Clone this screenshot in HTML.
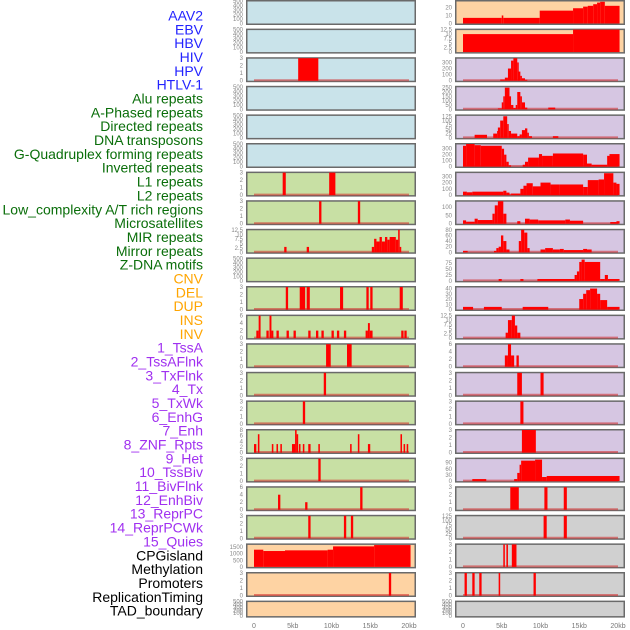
<!DOCTYPE html>
<html><head><meta charset="utf-8"><style>
html,body{margin:0;padding:0;background:#fff;width:630px;height:630px;overflow:hidden}
svg{display:block}
</style></head><body>
<svg id="chart" width="630" height="630" xmlns="http://www.w3.org/2000/svg"></svg>
<script>
const labels = ["AAV2","EBV","HBV","HIV","HPV","HTLV-1","Alu repeats","A-Phased repeats","Directed repeats","DNA transposons","G-Quadruplex forming repeats","Inverted repeats","L1 repeats","L2 repeats","Low_complexity A/T rich regions","Microsatellites","MIR repeats","Mirror repeats","Z-DNA motifs","CNV","DEL","DUP","INS","INV","1_TssA","2_TssAFlnk","3_TxFlnk","4_Tx","5_TxWk","6_EnhG","7_Enh","8_ZNF_Rpts","9_Het","10_TssBiv","11_BivFlnk","12_EnhBiv","13_ReprPC","14_ReprPCWk","15_Quies","CPGisland","Methylation","Promoters","ReplicationTiming","TAD_boundary"];
const labelGroups = [6,13,5,15,5];
const xTicks = [0,5,10,15,20];
const xTickLabels = ["0","5kb","10kb","15kb","20kb"];
const bgLeft = ["blue","blue","blue","blue","blue","blue","green","green","green","green","green","green","green","green","green","green","green","green","green","orange","orange","orange"];
const bgRight = ["orange","orange","purple","purple","purple","purple","purple","purple","purple","purple","purple","purple","purple","purple","purple","purple","purple","gray","gray","gray","gray","gray"];
const ymaxLeft = [500,500,3,500,500,500,3,3,12.5,500,3,6,3,3,3,8,3,6,3,1700,3,500];
const ymaxRight = [28,12.5,370,260,130,380,360,135,80,95,43,12.5,6,3,3,3,110,3,125,3,3,500];
const ticksLeft = [[0,100,200,300,400,500],[0,100,200,300,400,500],[0,1,2,3],[0,100,200,300,400,500],[0,100,200,300,400,500],[0,100,200,300,400,500],[0,1,2,3],[0,1,2,3],[0,2.5,5,7.5,10,12.5],[0,100,200,300,400,500],[0,1,2,3],[0,2,4,6],[0,1,2,3],[0,1,2,3],[0,1,2,3],[0,2,4,6,8],[0,1,2,3],[0,2,4,6],[0,1,2,3],[0,500,1000,1500],[0,1,2,3],[0,100,200,300,400,500]];
const ticksRight = [[0,10,20],[0,2.5,5,7.5,10,12.5],[0,100,200,300],[0,50,100,150,200,250],[0,25,50,75,100,125],[0,100,200,300],[0,100,200,300],[0,50,100],[0,20,40,60,80],[0,25,50,75],[0,10,20,30,40],[0,2.5,5,7.5,10,12.5],[0,2,4,6],[0,1,2,3],[0,1,2,3],[0,1,2,3],[0,30,60,90],[0,1,2,3],[0,25,50,75,100,125],[0,1,2,3],[0,1,2,3],[0,100,200,300,400,500]];
// segments: [startKb, endKb, value]
const segL2 = [[5.7,8.3,3]];
const segL6 = [[3.7,4.1,3],[9.7,10.5,3]];
const segL7 = [[8.4,8.7,3],[13.4,13.7,3]];
const segL8 = [[3.9,4.2,3],[6.8,7.1,3],[15.2,15.5,3],[15.5,15.8,7.5],[15.8,16.2,6],[16.2,16.5,8.5],[16.5,16.9,6],[16.9,17.2,8.5],[17.2,17.5,7],[17.5,18.3,8.5],[18.3,18.6,7],[18.6,18.8,12.5],[18.8,19.0,3]];
const segL10 = [[4.1,4.4,3],[5.9,6.6,3],[6.8,7.2,3],[11.1,11.5,3],[14.5,14.8,3],[15.0,15.3,3],[18.8,19.2,3]];
const segL11 = [[0.3,0.6,2],[0.6,0.85,6],[1.6,1.9,2],[2.0,2.25,6],[2.25,2.5,2],[2.9,3.2,2],[4.2,4.5,2],[5.1,5.4,2],[7.0,7.3,2],[8.0,8.3,2],[8.7,9.0,2],[10.0,10.3,2],[10.7,11.0,2],[11.6,11.9,2],[14.4,14.7,2],[14.7,14.95,4],[14.95,15.3,2],[19.0,19.3,2],[19.4,19.7,2]];
const segL12 = [[9.3,9.9,3],[12.0,12.6,3]];
const segL13 = [[9.0,9.3,3]];
const segL14 = [[6.3,6.6,3]];
const segL15 = [[0,0.3,3],[0.5,0.7,6.5],[2.3,2.5,3],[2.9,3.1,3],[3.4,3.6,3],[4.9,5.3,3],[5.3,5.5,8.5],[5.5,5.7,6.5],[5.8,6.0,3],[6.3,6.5,3],[7.0,7.3,3],[8.3,8.5,3],[12.4,12.6,3],[13.4,13.6,6.5],[14.7,15.0,3],[18.9,19.1,6.5],[19.3,19.5,3],[19.7,19.9,3]];
const segL16 = [[8.3,8.6,3]];
const segL17 = [[3.1,3.4,4],[6.6,6.9,2],[13.7,14.0,6]];
const segL18 = [[7.0,7.3,3],[11.6,11.9,3],[12.5,12.8,3]];
const segL19 = [[0,1.2,1300],[1.2,4,1200],[4,9.5,1250],[9.5,10.2,1300],[10.2,15.5,1550],[15.5,20.2,1650]];
const segL20 = [[17.4,17.7,3]];
const segR0 = [[0,5,7],[5,5.2,10],[5.2,9.9,7],[9.9,14.2,16],[14.2,15.5,19],[15.5,16.1,21],[16.1,16.8,22],[16.8,17.3,24],[17.3,17.7,26],[17.7,18.3,27],[18.3,20.2,22]];
const segR1 = [[0,14.2,10],[14.2,20.2,12.5]];
const segR2 = [[4.8,5.4,20],[5.4,5.8,50],[5.8,6.2,200],[6.2,6.5,330],[6.5,7.0,370],[7.0,7.1,300],[7.1,7.4,150],[7.4,7.6,80],[7.6,8.0,40],[8.0,8.3,15]];
const segR3 = [[4.5,5.0,10],[5.0,5.2,80],[5.2,5.4,150],[5.4,6.0,250],[6.0,6.2,150],[6.2,6.5,50],[6.5,6.8,15],[6.8,7.0,50],[7.0,7.4,200],[7.4,7.6,150],[7.6,8.0,80],[8.0,8.3,20],[11.0,11.9,20]];
const segR4 = [[1.5,3.1,18],[3.9,4.4,25],[4.4,4.5,40],[4.5,4.8,60],[4.8,5.2,100],[5.2,5.7,125],[5.7,5.9,80],[5.9,6.2,40],[6.2,7.0,25],[7.0,7.3,10],[7.3,7.6,20],[7.6,8.0,45],[8.0,8.3,55],[8.3,8.5,30],[8.5,8.9,10],[11.6,12.3,10]];
const segR5 = [[0,0.4,350],[0.4,1.5,380],[1.5,2.3,360],[2.3,5.0,350],[5.0,5.3,300],[5.3,5.6,200],[5.6,5.9,80],[5.9,6.2,20],[7.7,8.0,30],[8.0,8.4,80],[8.4,9.8,150],[9.8,10.2,210],[10.2,11.6,180],[11.6,15.5,220],[15.5,16,200],[16,16.6,50],[16.6,18.6,30],[18.6,18.9,180],[18.9,20.2,210]];
const segR6 = [[0,0.5,55],[0.5,1.2,45],[1.2,5.2,55],[5.2,5.6,70],[5.6,6,40],[6,6.2,10],[6.2,7.4,25],[7.4,7.8,100],[7.8,8.2,150],[8.2,9,190],[9,10,140],[10,11.3,200],[11.3,12.5,170],[12.5,15.5,170],[15.5,16.1,130],[16.1,17.5,240],[17.5,18.2,250],[18.2,19.4,350],[19.4,19.8,200],[19.8,20.2,180]];
const segR7 = [[0,0.4,20],[0.4,1.5,12],[1.5,1.9,30],[1.9,3.8,22],[3.8,4.1,60],[4.1,4.5,110],[4.5,5.2,135],[5.2,5.6,60],[7.0,7.4,15],[8.0,8.6,30],[8.6,9.7,25],[9.7,13.2,20],[13.2,13.8,25],[13.8,15.5,18],[19.0,19.8,10],[19.8,20.2,15]];
const segR8 = [[0,0.6,5],[4.0,4.3,5],[4.3,4.6,15],[4.6,4.9,20],[4.9,5.2,60],[5.2,5.6,40],[5.6,6.0,10],[7.2,7.5,40],[7.5,7.9,80],[7.9,8.3,70],[8.3,8.6,15],[10.0,10.6,10],[10.6,11.6,15],[11.6,12.5,10],[12.5,13.0,12],[13.0,15.5,8],[15.5,16.0,12],[16.0,16.6,10]];
const segR9 = [[4.6,5.0,8],[7.4,7.8,8],[9.6,14.4,8],[14.4,14.7,25],[14.7,15.0,40],[15.0,15.3,80],[15.3,15.7,90],[15.7,17.7,80],[17.7,18.3,8],[18.3,18.7,25],[18.7,20.2,8]];
const segR10 = [[0,1.3,5],[2.7,5.0,5],[7.7,11.0,5],[15.0,15.5,20],[15.5,15.9,30],[15.9,16.4,37],[16.4,17.3,40],[17.3,17.7,30],[17.7,18.6,18],[18.6,20.2,5]];
const segR11 = [[5.5,5.8,3],[5.8,6.3,10],[6.3,6.7,12.5],[6.7,7.0,7],[7.0,7.4,3]];
const segR12 = [[5.4,5.8,3],[5.8,6.2,6],[6.2,6.6,3],[6.9,7.2,3]];
const segR13 = [[7.0,7.6,3],[10.0,10.4,3]];
const segR14 = [[7.4,7.8,3]];
const segR15 = [[7.6,9.4,3]];
const segR16 = [[1.2,3.0,10],[6.6,7.0,10],[7.0,7.3,40],[7.3,7.5,80],[7.5,9.3,100],[9.3,10.2,105],[10.2,10.8,20],[10.8,20.2,25]];
const segR17 = [[6.1,7.2,3],[10.5,10.9,3],[13.0,13.4,3]];
const segR18 = [[10.4,10.8,125],[13.0,13.4,125]];
const segR19 = [[5.2,5.4,3],[5.6,5.8,3],[6.3,6.9,3]];
const segR20 = [[0.2,0.5,3],[1.2,1.5,3],[2.1,2.4,3],[4.6,4.8,3],[9.1,9.4,3]];

const segLeft = [[],[],segL2,[],[],[],segL6,segL7,segL8,[],segL10,segL11,segL12,segL13,segL14,segL15,segL16,segL17,segL18,segL19,segL20,[]];
const segRight = [segR0,segR1,segR2,segR3,segR4,segR5,segR6,segR7,segR8,segR9,segR10,segR11,segR12,segR13,segR14,segR15,segR16,segR17,segR18,segR19,segR20,[]];

const NS = "http://www.w3.org/2000/svg";
const svg = document.getElementById('chart');
const colors = {blue:"#c9e3ea",green:"#c8e0a4",orange:"#fed3a3",purple:"#d6c6e2",gray:"#d0d0d0"};
const groupColors = ["#2323ff","#0a6e0a","#ffa500","#a030f0","#000000"];
const PITCH = 28.6;
function mk(tag, attrs){const e=document.createElementNS(NS,tag);for(const k in attrs)e.setAttribute(k,attrs[k]);svg.appendChild(e);return e;}
function xScale(col, kb){return (col===0?254:463) + kb*7.75;}
function panelTop(r){return r*PITCH;}
function panelH(r){return r===21?17:25;}
function yScale(r, v, ymax){const t=panelTop(r)+1, b=panelTop(r)+panelH(r)-1.5;return b-(v/ymax)*(b-t);}

// labels
let gi=0, cnt=0;
labels.forEach((txt,i)=>{
  while(cnt>=labelGroups[gi]){cnt=0;gi++;}
  cnt++;
  const t=mk('text',{x:203,y:20.5+i*13.84,'text-anchor':'end','font-family':'Liberation Sans, sans-serif','font-size':'14',fill:groupColors[gi]});
  t.textContent=txt;
  
  
});

function drawPanel(col,r){
  const bg=(col===0?bgLeft:bgRight)[r];
  const ymax=(col===0?ymaxLeft:ymaxRight)[r];
  const ticks=(col===0?ticksLeft:ticksRight)[r];
  const segs=(col===0?segLeft:segRight)[r];
  const x0=col===0?246:455, w=170, top=panelTop(r), h=panelH(r);
  const rect=mk('rect',{x:x0+0.75,y:top+0.75,width:w-1.5,height:h-1.5,fill:colors[bg],stroke:'#6a6a6a','stroke-width':1.5});
  
  
  ticks.forEach(v=>{
    const t=mk('text',{x:x0-3,y:yScale(r,v,ymax)+2,'text-anchor':'end','font-family':'Liberation Sans, sans-serif','font-size':'6',fill:'#888'});
    t.textContent=String(v);
    
    
  });
  if(segs.length){
    const noBase=(col===0&&r===19)||(col===1&&r<2);
    if(!noBase){
      const ln=mk('line',{x1:xScale(col,0),x2:xScale(col,20),y1:yScale(r,0,ymax)-0.5,y2:yScale(r,0,ymax)-0.5,stroke:'rgba(210,40,40,0.55)','stroke-width':2});
      
      
    }
    segs.forEach(s=>{
      const xa=xScale(col,s[0]), xb=xScale(col,s[1]);
      const yv=yScale(r,Math.min(s[2],ymax),ymax), yb=yScale(r,0,ymax);
      const b=mk('rect',{x:xa,y:yv,width:Math.max(xb-xa,1.5),height:yb-yv,fill:'#ff0000'});
      
      
    });
  }
}
for(let r=0;r<22;r++){drawPanel(0,r);drawPanel(1,r);}

[0,1].forEach(col=>{
  xTicks.forEach((v,i)=>{
    const t=mk('text',{x:xScale(col,v),y:628,'text-anchor':'middle','font-family':'Liberation Sans, sans-serif','font-size':'7',fill:'#777'});
    t.textContent=xTickLabels[i];
    
    
  });
});
</script>
</body></html>
